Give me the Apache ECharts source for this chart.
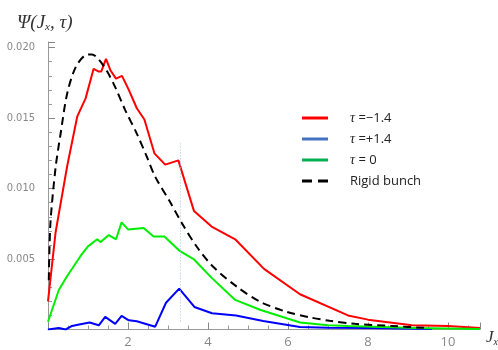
<!DOCTYPE html>
<html>
<head>
<meta charset="utf-8">
<script src="https://cdn.jsdelivr.net/npm/echarts@6/dist/echarts.min.js"></script>
<style>
  html, body {margin: 0; padding: 0; background: #fff;}
  #chart {width: 498px; height: 350px;}
</style>
</head>
<body>
<div id="chart"></div>
<script>
// values
const redX = [0, 0.19, 0.48, 0.73, 0.94, 1.14, 1.27, 1.33, 1.45, 1.56, 1.70, 1.85, 2.02, 2.22, 2.41, 2.66, 2.93, 3.26, 3.65, 4.09, 4.68, 5.4, 6.3, 7.5, 8.0, 9.1, 10.0, 10.8]
const redY = [0.002, 0.0069, 0.0116, 0.0151, 0.0164, 0.0185, 0.0183, 0.0183, 0.0192, 0.0184, 0.0178, 0.0180, 0.0170, 0.0157, 0.0149, 0.0125, 0.0117, 0.0120, 0.0084, 0.0073, 0.0064, 0.0043, 0.0025, 0.0010, 0.0007, 0.0003, 0.00025, 0.0001]

const blueX = [0, 0.27, 0.44, 0.6, 0.81, 1.04, 1.27, 1.43, 1.68, 1.84, 2.02, 2.22, 2.68, 2.95, 3.28, 3.66, 4.1, 4.7, 5.38, 6.3, 7.0, 8.0, 9.6]
const blueY = [0, 0.0001, 0, 0.00025, 0.00037, 0.0005, 0.0003, 0.0009, 0.0004, 0.00096, 0.00065, 0.00058, 0.0002, 0.0019, 0.0029, 0.0016, 0.00115, 0.001, 0.0006, 0.00018, 0.00012, 0.0001, 0.00003]

const greenX = [0, 0.27, 0.48, 0.81, 1.0, 1.23, 1.31, 1.52, 1.70, 1.84, 2.0, 2.39, 2.64, 2.91, 3.28, 3.64, 4.08, 4.68, 5.3, 6.3, 7.0, 7.5, 9.2, 10.8]
const greenY = [0.00055, 0.0028, 0.0038, 0.0052, 0.0059, 0.0064, 0.0062, 0.0067, 0.0064, 0.0076, 0.0071, 0.0072, 0.0066, 0.0066, 0.0056, 0.0050, 0.0037, 0.0021, 0.0014, 0.0005, 0.0003, 0.00025, 0.0001, 0.00003]

const rigidX = [0.02, 0.06, 0.19, 0.31, 0.48, 0.69, 0.94, 1.10, 1.27, 1.48, 1.68, 1.93, 2.22, 2.47, 2.68, 3.05, 3.35, 3.72, 4.13, 4.72, 5.3, 5.96, 6.55, 7.04, 7.67, 8.6, 9.5]
const rigidY = [0.0035, 0.0075, 0.0115, 0.0138, 0.01675, 0.0186, 0.01947, 0.01952, 0.01916, 0.0183, 0.0172, 0.01557, 0.0139, 0.01226, 0.01084, 0.00906, 0.00753, 0.00587, 0.00445, 0.00304, 0.00197, 0.00126, 0.00086, 0.00062, 0.0004, 0.00025, 0.0001]

const seriesNames = ['τ =−1.4', 'τ =+1.4', 'τ = 0', 'Rigid bunch']
const markX = 3.3
const markTop = 0.0132

const pairs = (xs, ys) => xs.map((x, i) => [x, ys[i]])

const chart = echarts.init(document.getElementById('chart'))

const tauText = name => name.startsWith('τ')
  ? '{t|τ}{s|' + name.slice(1) + '}'
  : '{r|' + name + '}'

chart.setOption({
  animation: false,
  grid: {left: 48, right: 18, top: 42, bottom: 20.5},
  title: {
    text: '{a|Ψ(J}{b|x}{a|, τ)}',
    left: 12, top: 8,
    textStyle: {
      fontWeight: 'normal',
      rich: {
        a: {fontFamily: 'Liberation Serif', fontStyle: 'italic', fontWeight: 'normal', fontSize: 19, color: '#333'},
        b: {fontFamily: 'Liberation Serif', fontStyle: 'italic', fontWeight: 'normal', fontSize: 11, color: '#333', verticalAlign: 'bottom', padding: [9, 0, 0, 0]}
      }
    }
  },
  graphic: [{
    type: 'text',
    left: 486, top: 329,
    style: {
      text: '{a|J}{b|x}',
      rich: {
        a: {fontFamily: 'Liberation Serif', fontStyle: 'italic', fontSize: 17, fill: '#333'},
        b: {fontFamily: 'Liberation Serif', fontStyle: 'italic', fontSize: 10, fill: '#333', padding: [9, 0, 0, 0]}
      }
    }
  }],
  legend: {
    orient: 'vertical',
    left: 297, top: 105,
    itemWidth: 26, itemHeight: 3,
    itemGap: 5,
    data: [
      {name: seriesNames[0], icon: 'rect', itemStyle: {color: '#ff0000'}},
      {name: seriesNames[1], icon: 'rect', itemStyle: {color: '#4472c4'}},
      {name: seriesNames[2], icon: 'rect', itemStyle: {color: '#00b050'}},
      {name: seriesNames[3], icon: 'path://M0,0h10v3h-10z M16,0h10v3h-10z', itemStyle: {color: '#000'}}
    ],
    formatter: tauText,
    textStyle: {
      lineHeight: 16,
      rich: {
        t: {fontFamily: 'Liberation Serif', fontStyle: 'italic', fontSize: 14, color: '#222', padding: [0, 0, 0, 17]},
        s: {fontFamily: 'Open Sans', fontSize: 13, color: '#222'},
        r: {fontFamily: 'Open Sans', fontSize: 13, color: '#222', padding: [0, 0, 0, 17]}
      }
    }
  },
  xAxis: {
    type: 'value',
    min: 0, max: 10.8, interval: 2,
    axisLine: {lineStyle: {color: '#999'}},
    axisTick: {show: true, inside: true, length: 7, lineStyle: {color: '#888', width: 1}},
    minorTick: {show: true, splitNumber: 4, length: 4, lineStyle: {color: '#999', width: 1}},
    splitLine: {show: false},
    axisLabel: {
      showMinLabel: false, showMaxLabel: false, margin: 6,
      color: '#888', fontSize: 13, fontFamily: 'Open Sans'
    }
  },
  yAxis: {
    type: 'value',
    min: 0, max: 0.0204, interval: 0.005,
    axisLine: {show: true, lineStyle: {color: '#999'}},
    axisTick: {show: true, inside: true, length: 7, lineStyle: {color: '#888', width: 1}},
    minorTick: {show: true, splitNumber: 5, length: 4, lineStyle: {color: '#999', width: 1}},
    splitLine: {show: false},
    axisLabel: {
      showMinLabel: false, margin: 13,
      color: '#888', fontSize: 11, fontFamily: 'Liberation Sans Narrow, DejaVu Sans Condensed, sans-serif',
      formatter: v => v.toFixed(3)
    }
  },
  series: [
    {name: seriesNames[0], data: pairs(redX, redY), color: '#ff0000', lineStyle: {color: '#ff0000', width: 2}},
    {name: seriesNames[1], data: pairs(blueX, blueY), color: '#0000ff', lineStyle: {color: '#0000ff', width: 2},
      markLine: {
        silent: true, symbol: 'none', label: {show: false},
        lineStyle: {color: '#a9c1e6', type: [1, 2], width: 1},
        data: [[{coord: [markX, markTop]}, {coord: [markX, 0.0005]}]]
      }
    },
    {name: seriesNames[2], data: pairs(greenX, greenY), color: '#00ee00', lineStyle: {color: '#00ee00', width: 2}},
    {name: seriesNames[3], data: pairs(rigidX, rigidY), color: '#000', smooth: 0.3, lineStyle: {color: '#000', width: 2, type: [8, 5]}}
  ].map(s => ({...s, type: 'line', symbol: 'none', showSymbol: false}))
})
</script>
</body>
</html>
